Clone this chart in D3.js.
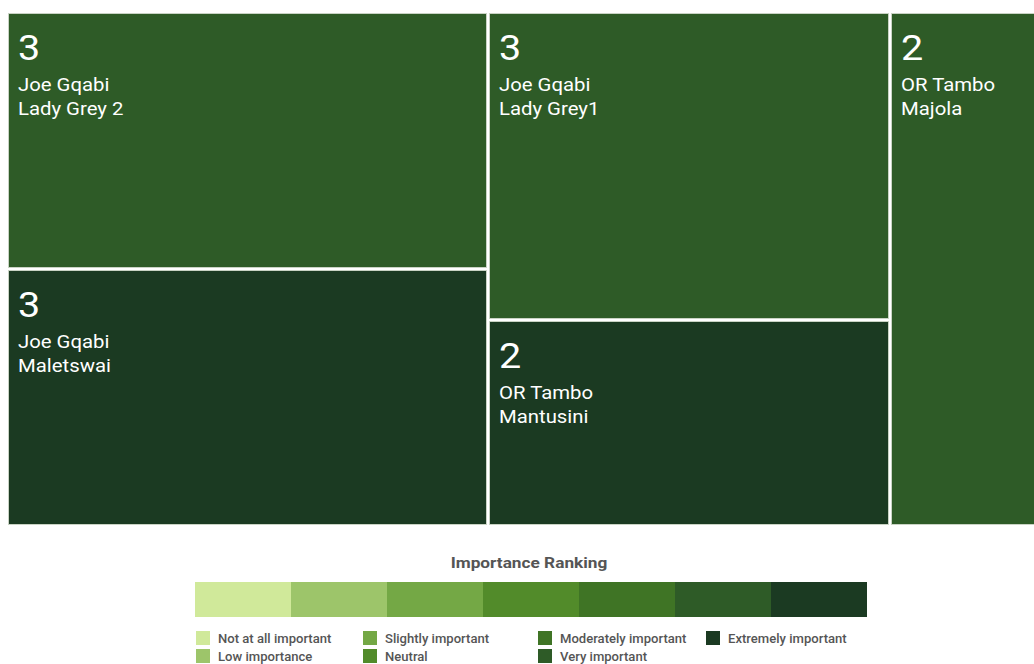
<!DOCTYPE html>
<html>
<head>
<meta charset="utf-8">
<script src="https://cdn.jsdelivr.net/npm/d3@7"></script>
<style>
  html, body { margin: 0; padding: 0; background: #fff; }
  svg { display: block; font-family: Roboto, "Noto Sans", sans-serif; }
</style>
</head>
<body>
<svg id="chart" width="1034" height="664"></svg>
<script>
// ---- data ----
const districts = ["Joe Gqabi", "Joe Gqabi", "Joe Gqabi", "OR Tambo", "OR Tambo"];
const places = ["Lady Grey 2", "Maletswai", "Lady Grey1", "Mantusini", "Majola"];
const values = [3, 3, 3, 2, 2];
const importance = ["Very important", "Extremely important", "Very important", "Extremely important", "Very important"];

const rankLabels = ["Not at all important", "Low importance", "Slightly important", "Neutral",
                    "Moderately important", "Very important", "Extremely important"];
const rankColors = ["#d0e99a", "#9dc56a", "#74a845", "#528b2a", "#3f7425", "#2e5b27", "#1b3a22"];
const legendTitle = "Importance Ranking";

// ---- layout ----
const svg = d3.select("#chart");
const color = d3.scaleOrdinal().domain(rankLabels).range(rankColors);

const rows = places.map((p, i) => ({ district: districts[i], place: p, value: values[i], imp: importance[i] }));
const root = d3.hierarchy({ children: rows }).sum(d => d.value || 0)
  .sort((a, b) => b.value - a.value);

d3.treemap().tile(d3.treemapSquarify).size([1041, 512]).paddingInner(2).round(true)(root);

const g = svg.append("g").attr("transform", "translate(8,13)");
const cell = g.selectAll("g.cell").data(root.leaves()).join("g")
  .attr("class", "cell")
  .attr("transform", d => `translate(${d.x0},${d.y0})`);

cell.append("rect")
  .attr("x", 0.5).attr("y", 0.5)
  .attr("width", d => d.x1 - d.x0 - 1)
  .attr("height", d => d.y1 - d.y0 - 1)
  .attr("fill", d => color(d.data.imp))
  .attr("stroke", "#c9d3c4")
  .attr("stroke-width", 1);

const sx = 1.13;
const addText = (sel, y, size, fn) =>
  sel.append("text")
    .attr("transform", `translate(10,${y}) scale(${sx},1)`)
    .attr("fill", "#fff")
    .attr("font-size", size)
    .text(fn);
addText(cell, 47, 35, d => d.data.value);
addText(cell, 78, 18, d => d.data.district);
addText(cell, 102, 18, d => d.data.place);

// ---- legend ----
const lx = d3.scaleBand().domain(rankLabels).range([195, 867]);
svg.append("text")
  .attr("transform", "translate(529,568) scale(1.15,1)")
  .attr("text-anchor", "middle")
  .attr("font-size", 15).attr("font-weight", "bold")
  .attr("fill", "#555")
  .text(legendTitle);

svg.append("g").selectAll("rect").data(rankLabels).join("rect")
  .attr("x", d => lx(d)).attr("y", 582)
  .attr("width", lx.bandwidth()).attr("height", 35)
  .attr("fill", d => color(d));

const colX = [196, 363, 538, 706];
const itemPos = (i) => {
  const col = Math.floor(i / 2), row = i % 2;
  return { x: colX[col], y: 631 + row * 18 };
};
const items = svg.append("g").selectAll("g").data(rankLabels).join("g")
  .attr("transform", (d, i) => { const p = itemPos(i); return `translate(${p.x},${p.y})`; });
items.append("rect").attr("width", 14).attr("height", 14).attr("fill", d => color(d));
items.append("text").attr("transform", "translate(22,12) scale(1.09,1)")
  .attr("font-size", 12).attr("font-weight", 500).attr("fill", "#555")
  .text(d => d);
</script>
</body>
</html>
